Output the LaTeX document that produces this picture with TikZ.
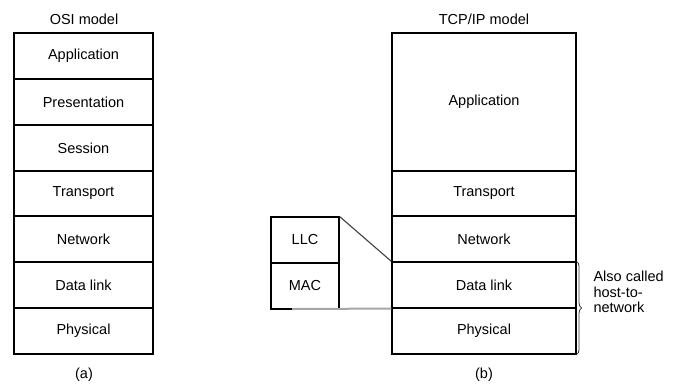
\documentclass[tikz,border=0pt]{standalone}
\usepackage{fontspec}
\setmainfont{Liberation Sans}
\usetikzlibrary{decorations.pathreplacing}
\begin{document}
\begin{tikzpicture}[x=1pt,y=-1pt,
  layer/.style={draw=black,line width=1.1pt,minimum height=46pt,inner sep=0pt,font=\fontsize{14.5}{15}\selectfont},
  lbl/.style={font=\fontsize{14.5}{15.5}\selectfont}]
\useasboundingbox (0,0) rectangle (679,383);
% OSI
\node[lbl] (osit) at (84,19) {OSI model};
\node[layer,minimum width=139pt] (app) at (83.5,56) {Application};
\node[layer,minimum width=139pt] (pres) at (83.5,102) {Presentation};
\node[layer,minimum width=139pt] (ses) at (83.5,148) {Session};
\node[layer,minimum width=139pt] (tra) at (83.5,193.5) {Transport};
\node[layer,minimum width=139pt] (net) at (83.5,239) {Network};
\node[layer,minimum width=139pt] (dl) at (83.5,285) {Data link};
\node[layer,minimum width=139pt] (phy) at (83.5,331) {Physical};
\node[lbl] (a) at (84,375) {(a)};
% TCP/IP
\node[lbl] (tcpt) at (484,19) {TCP/IP model};
\node[layer,minimum width=184pt,minimum height=138pt] (tapp) at (484,102) {Application};
\node[layer,minimum width=184pt] (ttra) at (484,193.5) {Transport};
\node[layer,minimum width=184pt] (tnet) at (484,239) {Network};
\node[layer,minimum width=184pt] (tdl) at (484,285) {Data link};
\node[layer,minimum width=184pt] (tphy) at (484,331) {Physical};
\node[lbl] (b) at (484,375) {(b)};
% LLC / MAC
\node[layer,minimum width=68pt] (llc) at (305,240) {LLC};
\node[layer,minimum width=68pt] (mac) at (305,286) {MAC};
\draw[line width=1.1pt,black!75] (llc.north east) -- (tdl.north west);
\coordinate (gs) at (292,309);
\draw[line width=2pt,black!35] (gs) -- (tdl.south west);
% brace
\draw[line width=0.8pt,black!80,decorate,decoration={brace,amplitude=5pt}] (tdl.north east) -- (tphy.south east);
\node[lbl,anchor=west,align=left] (also) at (590,292) {Also called\\host-to-\\network};
\end{tikzpicture}
\end{document}
